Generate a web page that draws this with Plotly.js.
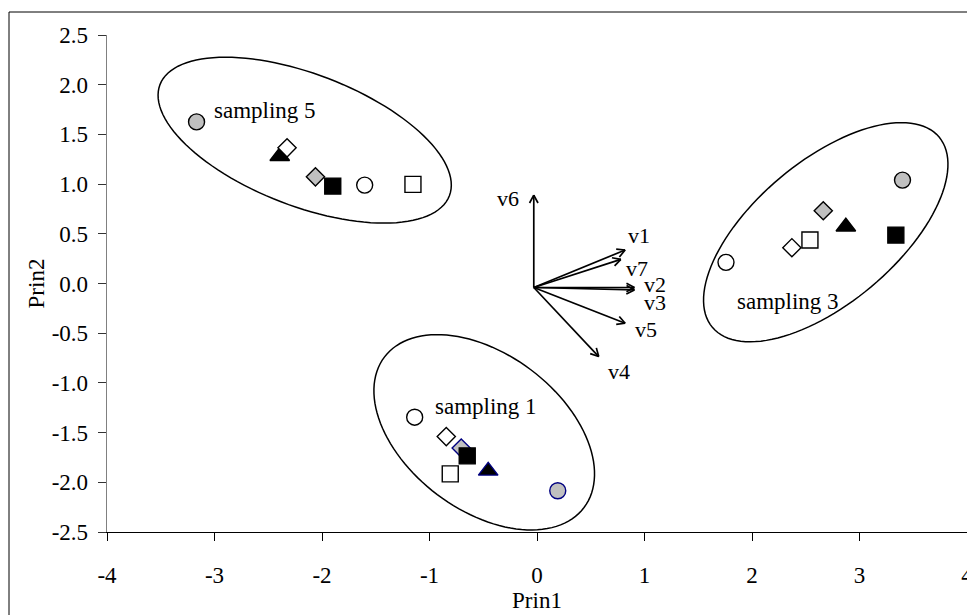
<!DOCTYPE html>
<html><head><meta charset="utf-8">
<script src="https://cdn.plot.ly/plotly-3.0.1.min.js"></script>
<style>html,body{margin:0;padding:0;background:#fff;overflow:hidden}</style>
</head><body><div id="chart" style="width:967px;height:615px"></div>
<script>
// ---- data (each series: [sampling 5, sampling 1, sampling 3]) ----
const groupNames = ['sampling 5', 'sampling 1', 'sampling 3'];
const triangleX = [-2.393, -0.454, 2.873];
const triangleY = [1.28, -1.885, 0.571];
const whiteDiamondX = [-2.325, -0.844, 2.371];
const whiteDiamondY = [1.365, -1.54, 0.36];
const grayDiamondX = [-2.061, -0.705, 2.663];
const grayDiamondY = [1.073, -1.656, 0.732];
const blackSquareX = [-1.90, -0.649, 3.338];
const blackSquareY = [0.98, -1.734, 0.487];
const whiteCircleX = [-1.603, -1.138, 1.758];
const whiteCircleY = [0.99, -1.345, 0.213];
const whiteSquareX = [-1.154, -0.807, 2.539];
const whiteSquareY = [0.997, -1.915, 0.437];
const grayCircleX = [-3.167, 0.193, 3.40];
const grayCircleY = [1.626, -2.085, 1.04];

// loading vectors
const vecNames = ['v1', 'v2', 'v3', 'v4', 'v5', 'v6', 'v7'];
const vecOrigin = [-0.03, -0.04];
const vecX = [0.82, 0.906, 0.906, 0.574, 0.82, -0.03, 0.78];
const vecY = [0.337, -0.04, -0.065, -0.735, -0.40, 0.89, 0.243];
const vecLabelX = [0.953, 1.10, 1.10, 0.767, 1.015, -0.271, 0.934];
const vecLabelY = [0.487, -0.01, -0.19, -0.886, -0.467, 0.856, 0.153];

// group labels and enclosing ellipses
const groupLabelX = [-2.533, -0.472, 2.331];
const groupLabelY = [1.744, -1.238, -0.183];
const ellCenterX = [-2.161, -0.491, 2.686];
const ellCenterY = [1.442, -1.497, 0.516];

// axes
const xTickVals = [-4, -3, -2, -1, 0, 1, 2, 3, 4];
const xTickText = ['-4', '-3', '-2', '-1', '0', '1', '2', '3', '4'];
const yTickVals = [-2.5, -2, -1.5, -1, -0.5, 0, 0.5, 1, 1.5, 2, 2.5];
const yTickText = ['-2.5', '-2.0', '-1.5', '-1.0', '-0.5', '0.0', '0.5', '1.0', '1.5', '2.0', '2.5'];

// ---- geometry ----
const W = 967, H = 615;
const M = {l: 107, r: 0, t: 35, b: 83};
const XR = [-4, 4], YR = [-2.5, 2.5];
const sx = (W - M.l - M.r) / (XR[1] - XR[0]);
const sy = (H - M.t - M.b) / (YR[1] - YR[0]);
const FONT = 'Liberation Serif, Times New Roman, serif';
const FS_TICK = 23, FS_TITLE = 23, FS_GROUP = 23, FS_VEC = 22;

// ellipse shape (semi-axes in px, angle in degrees, screen coords)
const ellStyle = [{a: 155, b: 66, ang: 21}, {a: 125, b: 78, ang: 37}, {a: 148, b: 71, ang: -40}];
function ellipsePath(cx, cy, a, b, angDeg) {
  const th = angDeg * Math.PI / 180;
  let p = '';
  const n = 120;
  for (let i = 0; i <= n; i++) {
    const t = 2 * Math.PI * i / n;
    const dx = a * Math.cos(t) * Math.cos(th) - b * Math.sin(t) * Math.sin(th);
    const dy = a * Math.cos(t) * Math.sin(th) + b * Math.sin(t) * Math.cos(th);
    const x = cx + dx / sx, y = cy - dy / sy;
    p += (i === 0 ? 'M' : 'L') + x.toFixed(4) + ',' + y.toFixed(4);
  }
  return p + 'Z';
}

const black = '#000000', navy = '#000080', gray = '#c0c0c0', white = '#ffffff';
function pts(name, xs, ys, symbol, size, fill, lineColors) {
  return {
    type: 'scatter', mode: 'markers', name: name, x: xs, y: ys,
    text: groupNames, hoverinfo: 'x+y+text',
    marker: {symbol: symbol, size: size, color: fill,
      line: {color: lineColors || black, width: 1.4}},
    showlegend: false
  };
}

const traces = [];
// arrows
const ax = [], ay = [];
const headLen = 9, headAng = 28 * Math.PI / 180;
for (let i = 0; i < vecNames.length; i++) {
  const tx = vecX[i], ty = vecY[i];
  ax.push(vecOrigin[0], tx, null);
  ay.push(vecOrigin[1], ty, null);
  const dxp = (tx - vecOrigin[0]) * sx, dyp = (ty - vecOrigin[1]) * sy;
  const L = Math.hypot(dxp, dyp);
  const ux = dxp / L, uy = dyp / L;
  for (const s of [1, -1]) {
    const c = Math.cos(s * headAng), sn = Math.sin(s * headAng);
    const rx = ux * c - uy * sn, ry = ux * sn + uy * c;
    ax.push(tx, tx - headLen * rx / sx, null);
    ay.push(ty, ty - headLen * ry / sy, null);
  }
}
traces.push({type: 'scatter', mode: 'lines', x: ax, y: ay, name: 'loadings',
  line: {color: black, width: 1.7}, hoverinfo: 'skip', showlegend: false});

traces.push(pts('triangle', triangleX, triangleY, 'triangle-up', 17, black, [black, navy, black]));
traces.push(pts('white diamond', whiteDiamondX, whiteDiamondY, 'diamond', 14, white));
traces.push(pts('gray diamond', grayDiamondX, grayDiamondY, 'diamond', 14, gray, [black, navy, black]));
traces.push(pts('black square', blackSquareX, blackSquareY, 'square', 16, black));
traces.push(pts('white circle', whiteCircleX, whiteCircleY, 'circle', 16, white));
traces.push(pts('white square', whiteSquareX, whiteSquareY, 'square', 16, white));
traces.push(pts('gray circle', grayCircleX, grayCircleY, 'circle', 16, gray, [black, navy, black]));

const shapes = [];
for (let i = 0; i < 3; i++) {
  const e = ellStyle[i];
  shapes.push({type: 'path', xref: 'x', yref: 'y',
    path: ellipsePath(ellCenterX[i], ellCenterY[i], e.a, e.b, e.ang),
    line: {color: black, width: 1.5}, layer: 'below'});
}
// outer chart border
shapes.push({type: 'rect', xref: 'paper', yref: 'paper',
  x0: (9 - M.l) / (W - M.l - M.r), x1: 1.5, y0: -1,
  y1: (H - M.b - 12) / (H - M.t - M.b),
  line: {color: black, width: 1}, fillcolor: 'rgba(0,0,0,0)'});

const annotations = [];
for (let i = 0; i < vecNames.length; i++) {
  annotations.push({x: vecLabelX[i], y: vecLabelY[i], xref: 'x', yref: 'y',
    text: vecNames[i], showarrow: false, xanchor: 'center', yanchor: 'middle',
    font: {family: FONT, size: FS_VEC, color: black}});
}
for (let i = 0; i < 3; i++) {
  annotations.push({x: groupLabelX[i], y: groupLabelY[i], xref: 'x', yref: 'y',
    text: groupNames[i], showarrow: false, xanchor: 'center', yanchor: 'middle',
    font: {family: FONT, size: FS_GROUP, color: black}});
}

const layout = {
  width: W, height: H, margin: M,
  paper_bgcolor: white, plot_bgcolor: white,
  font: {family: FONT, size: FS_TICK, color: black},
  showlegend: false,
  xaxis: {range: XR, tickvals: xTickVals, ticktext: xTickText,
    ticks: 'outside', ticklen: 8, tickcolor: black, tickwidth: 1,
    showline: true, linecolor: black, linewidth: 1.3,
    showgrid: false, zeroline: false, automargin: false,
    ticklabelstandoff: 14, ticklabeloverflow: 'allow',
    tickfont: {family: FONT, size: FS_TICK, color: black},
    title: {text: 'Prin1', standoff: 0, font: {family: FONT, size: FS_TITLE, color: black}}},
  yaxis: {range: YR, tickvals: yTickVals, ticktext: yTickText,
    ticks: 'outside', ticklen: 8, tickcolor: '#333333', tickwidth: 1,
    showline: true, linecolor: '#808080', linewidth: 1.3,
    showgrid: false, zeroline: false, automargin: false,
    ticklabelstandoff: 5, ticklabeloverflow: 'allow',
    tickfont: {family: FONT, size: FS_TICK, color: black},
    title: {text: 'Prin2', standoff: 0, font: {family: FONT, size: FS_TITLE, color: black}}},
  shapes: shapes,
  annotations: annotations
};

Plotly.newPlot('chart', traces, layout, {displayModeBar: false, staticPlot: true});
</script>
</body></html>
